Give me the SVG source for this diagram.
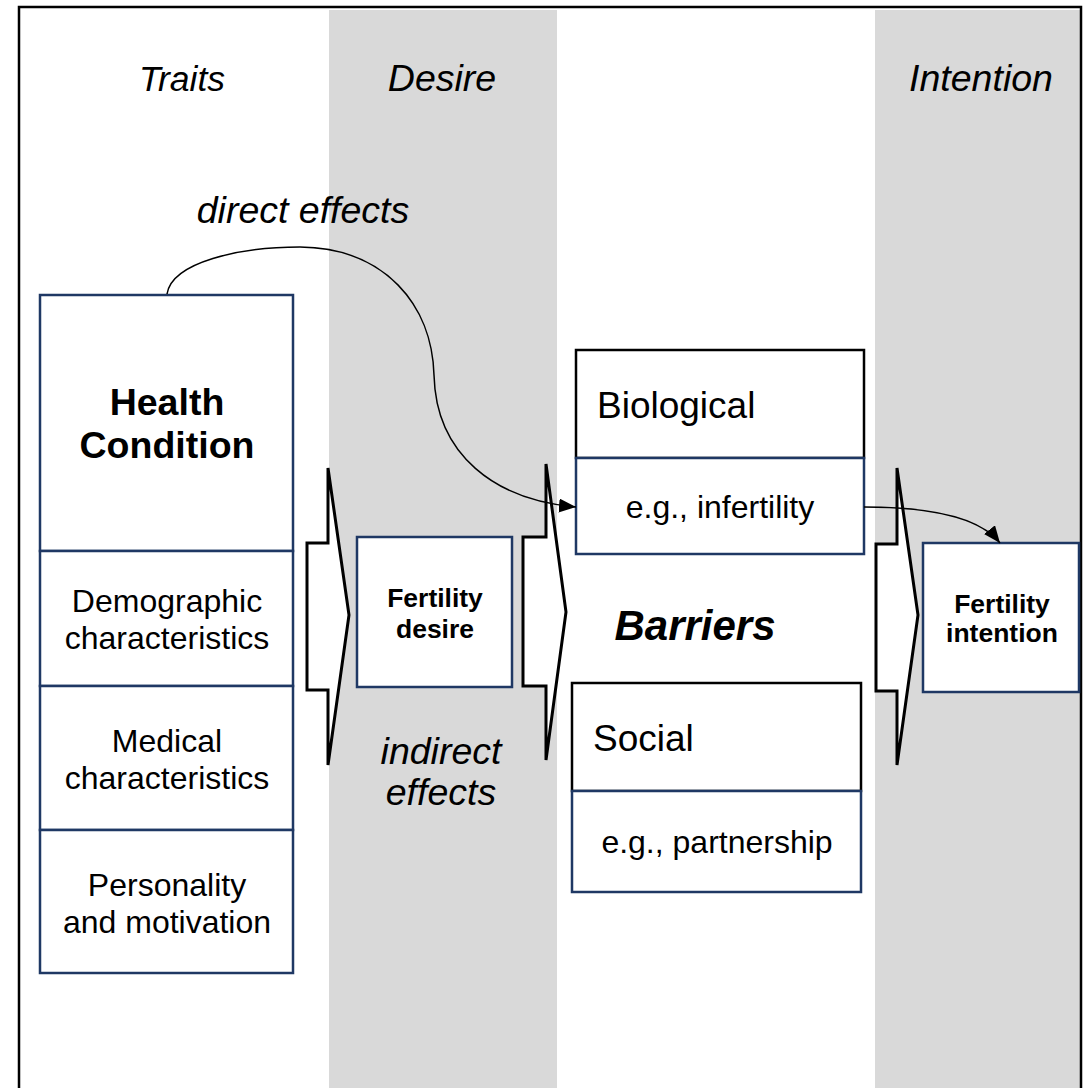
<svg xmlns="http://www.w3.org/2000/svg" width="1084" height="1088" viewBox="0 0 1084 1088">
<defs>
<style>
text{font-family:"Liberation Sans",Arial,sans-serif;fill:#000}
.hd{font-size:37.5px;font-style:italic;text-anchor:middle}
.box{fill:#fff;stroke:#1f3864;stroke-width:2.5}
.boxk{fill:#fff;stroke:#000;stroke-width:2.5}
.arr{fill:#fff;stroke:#000;stroke-width:3;stroke-linejoin:miter}
.t30{font-size:32px;text-anchor:middle}
.fb{font-size:26.5px;font-weight:bold;text-anchor:middle}
.con{fill:none;stroke:#000;stroke-width:1.5}
</style>
<marker id="ah2" viewBox="0 0 10 10" refX="10" refY="5" markerWidth="17" markerHeight="14" markerUnits="userSpaceOnUse" orient="auto" preserveAspectRatio="none">
<path d="M0,0 L10,5 L0,10 z" fill="#000"/>
</marker>
</defs>
<rect x="0" y="0" width="1084" height="1088" fill="#fff"/>
<g id="bands">
<rect x="329" y="10" width="228" height="1078" fill="#d9d9d9"/>
<rect x="875" y="10" width="206" height="1078" fill="#d9d9d9"/>
</g>
<rect x="19" y="7" width="1062" height="1095" fill="none" stroke="#000" stroke-width="2.5"/>
<g id="headings">
<text class="hd" x="182" y="91" style="font-size:35.5px">Traits</text>
<text class="hd" x="442" y="91">Desire</text>
<text class="hd" x="981" y="91">Intention</text>
<text class="hd" x="303" y="223">direct effects</text>
<text class="hd" x="441" y="764">indirect</text>
<text class="hd" x="441" y="805">effects</text>
</g>
<g id="block-arrows">
<polygon class="arr" points="307,543 328,543 328,468 349,615 328,765 328,690 307,690"/>
<polygon class="arr" points="523,537 546,537 546,464 566,612 546,760 546,686 523,686"/>
<polygon class="arr" points="876,544 897,544 897,468 918,615 897,765 897,691 876,691"/>
</g>
<g id="traits">
<g id="health-condition">
<rect class="box" x="40" y="295" width="253" height="256"/>
<text x="167" y="415" style="font-size:37.5px;font-weight:bold;text-anchor:middle">Health</text>
<text x="167" y="458" style="font-size:37.5px;font-weight:bold;text-anchor:middle">Condition</text>
</g>
<g id="demographic">
<rect class="box" x="40" y="551" width="253" height="135"/>
<text class="t30" x="167" y="612">Demographic</text>
<text class="t30" x="167" y="649">characteristics</text>
</g>
<g id="medical">
<rect class="box" x="40" y="686" width="253" height="144"/>
<text class="t30" x="167" y="752">Medical</text>
<text class="t30" x="167" y="789">characteristics</text>
</g>
<g id="personality">
<rect class="box" x="40" y="830" width="253" height="143"/>
<text class="t30" x="167" y="896">Personality</text>
<text class="t30" x="167" y="933">and motivation</text>
</g>
</g>
<g id="fertility-desire">
<rect class="box" x="357" y="537" width="155" height="150"/>
<text class="fb" x="435" y="607">Fertility</text>
<text class="fb" x="435" y="638">desire</text>
</g>
<g id="biological">
<rect class="boxk" x="576" y="350" width="288" height="108"/>
<text x="597" y="418" style="font-size:37px">Biological</text>
</g>
<g id="infertility">
<rect class="box" x="576" y="458" width="288" height="96"/>
<text class="t30" x="720" y="518">e.g., infertility</text>
</g>
<g id="barriers">
<text x="695" y="640" style="font-size:42px;font-weight:bold;font-style:italic;text-anchor:middle">Barriers</text>
</g>
<g id="social">
<rect class="boxk" x="572" y="683" width="289" height="108"/>
<text x="593" y="751" style="font-size:37px">Social</text>
</g>
<g id="partnership">
<rect class="box" x="572" y="791" width="289" height="101"/>
<text class="t30" x="717" y="853">e.g., partnership</text>
</g>
<g id="fertility-intention">
<rect class="box" x="923" y="543" width="156" height="149"/>
<text class="fb" x="1002" y="613">Fertility</text>
<text class="fb" x="1002" y="642">intention</text>
</g>
<g id="connectors">
<path class="con" d="M167,294 C172,262 240,247 300,247 C385,248 432,305 434,375 C436,455 495,500 576,507" marker-end="url(#ah2)"/>
<path class="con" d="M864,507 C925,507 978,515 1000,543" marker-end="url(#ah2)"/>
</g>
</svg>
